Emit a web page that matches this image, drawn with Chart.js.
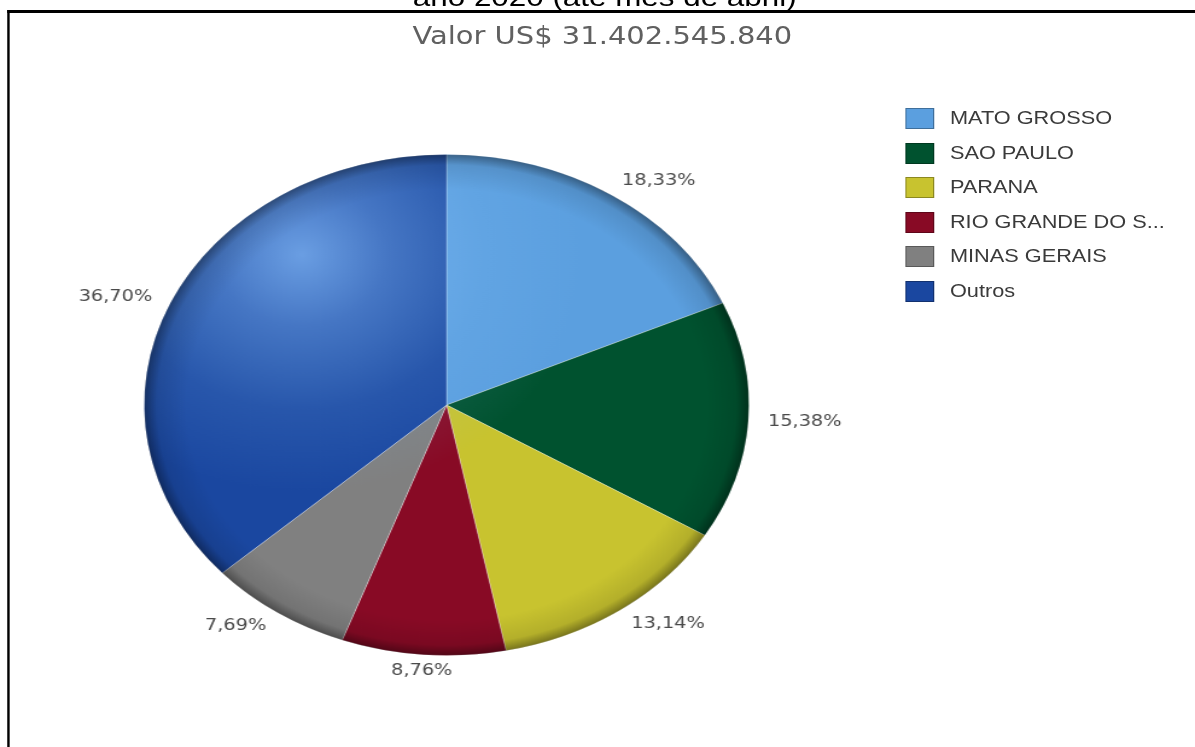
<!DOCTYPE html>
<html>
<head>
<meta charset="utf-8">
<script src="https://cdn.jsdelivr.net/npm/chart.js@4.4.1/dist/chart.umd.min.js"></script>
<style>
html, body { margin: 0; padding: 0; background: #fff; overflow: hidden; }
#page {
    position: absolute; left: 0; top: 0;
    width: 990px; height: 747px;
    transform: scaleX(1.207); transform-origin: 0 0;
}
#frame {
    position: absolute; left: 6px; top: 10px;
    width: 1000px; height: 760px;
    border-left: 2.5px solid #000; border-top: 3px solid #000;
}
#caption {
    position: absolute; left: 0; top: -16px; width: 1002px;
    text-align: center; font: 26px/26px "Liberation Sans", Arial, sans-serif; color: #000;
    white-space: nowrap;
}
#title {
    position: absolute; left: 0; top: 24px; width: 998px;
    text-align: center; font: 24px/24px "DejaVu Sans", Verdana, sans-serif; color: #606060;
    white-space: nowrap;
}
#pieChart { position: absolute; left: 0; top: 0; }
#legend {
    position: absolute; left: 750px; top: 108px;
    list-style: none; margin: 0; padding: 0;
    font: 18px "Liberation Sans", Arial, sans-serif; color: #3a3a3a;
}
#legend li { display: flex; align-items: center; height: 21px; margin-bottom: 13.5px; white-space: nowrap; }
#legend .box { width: 22px; height: 19px; margin-right: 13px; border: 1px solid rgba(0,0,0,0.3); }
</style>
</head>
<body>
<div id="page">
    <div id="frame"></div>
    <div id="caption">ano 2020 (até mês de abril)</div>
    <div id="title">Valor US$ 31.402.545.840</div>
    <canvas id="pieChart" width="990" height="747"></canvas>
    <ul id="legend"></ul>
</div>
<script>
const states = ['MATO GROSSO', 'SAO PAULO', 'PARANA', 'RIO GRANDE DO S...', 'MINAS GERAIS', 'Outros'];
const shares = [18.33, 15.38, 13.14, 8.76, 7.69, 36.70];
const stateColors = ['#5b9fdf', '#00522f', '#c8c32f', '#880a25', '#808080', '#1a47a0'];

// glossy look: light spot upper left, darker rim
const pieShading = {
    id: 'pieShading',
    afterDatasetsDraw(chart) {
        const arc = chart.getDatasetMeta(0).data[0];
        const { x, y, outerRadius: r } = arc.getProps(['x', 'y', 'outerRadius'], true);
        const ctx = chart.ctx;
        ctx.save();
        ctx.beginPath();
        ctx.arc(x, y, r, 0, Math.PI * 2);
        ctx.clip();

        const hx = x - r * 0.48, hy = y - r * 0.6;
        const glow = ctx.createRadialGradient(hx, hy, 0, hx, hy, r * 0.95);
        glow.addColorStop(0, 'rgba(140,195,255,0.7)');
        glow.addColorStop(0.3, 'rgba(140,195,255,0.38)');
        glow.addColorStop(0.65, 'rgba(140,200,255,0.12)');
        glow.addColorStop(1, 'rgba(140,200,255,0)');
        ctx.fillStyle = glow;
        ctx.fillRect(x - r, y - r, r * 2, r * 2);

        const rim = ctx.createRadialGradient(x, y, r * 0.86, x, y, r);
        rim.addColorStop(0, 'rgba(0,0,0,0)');
        rim.addColorStop(0.7, 'rgba(0,0,0,0.1)');
        rim.addColorStop(1, 'rgba(0,0,0,0.4)');
        ctx.fillStyle = rim;
        ctx.fillRect(x - r, y - r, r * 2, r * 2);
        ctx.restore();
    }
};

// percentage labels just outside each slice
const sliceLabels = {
    id: 'sliceLabels',
    afterDraw(chart, args, opts) {
        const ctx = chart.ctx;
        const values = chart.data.datasets[0].data;
        ctx.save();
        ctx.font = opts.font;
        ctx.fillStyle = opts.color;
        ctx.textBaseline = 'middle';
        chart.getDatasetMeta(0).data.forEach(function(arc, i) {
            const p = arc.getProps(['x', 'y', 'startAngle', 'endAngle', 'outerRadius'], true);
            const mid = (p.startAngle + p.endAngle) / 2;
            const cos = Math.cos(mid), sin = Math.sin(mid);
            const lx = p.x + cos * p.outerRadius * opts.offset;
            const ly = p.y + sin * p.outerRadius * opts.offset;
            ctx.textAlign = cos > 0.2 ? 'left' : (cos < -0.2 ? 'right' : 'center');
            ctx.fillText(values[i].toFixed(2).replace('.', ',') + '%', lx, ly);
        });
        ctx.restore();
    }
};

const pieCtx = document.getElementById('pieChart').getContext('2d');

const pieChart = new Chart(pieCtx, {
    type: 'pie',
    data: {
        labels: states,
        datasets: [{
            data: shares,
            backgroundColor: stateColors,
            borderColor: 'rgba(255,255,255,0.3)',
            borderWidth: 1
        }]
    },
    options: {
        responsive: false,
        animation: false,
        layout: {
            padding: { left: 119, top: 154, right: 369, bottom: 91 }
        },
        plugins: {
            legend: { display: false },
            tooltip: { enabled: false },
            sliceLabels: {
                font: '16px "DejaVu Sans", Verdana, sans-serif',
                color: '#4a4a4a',
                offset: 1.065
            }
        }
    },
    plugins: [pieShading, sliceLabels]
});

// legend list built from the chart's own items
const legendList = document.getElementById('legend');
pieChart.options.plugins.legend.labels.generateLabels(pieChart).forEach(function(item) {
    const li = document.createElement('li');
    const box = document.createElement('span');
    box.className = 'box';
    box.style.background = item.fillStyle;
    li.appendChild(box);
    li.appendChild(document.createTextNode(item.text));
    legendList.appendChild(li);
});
</script>
</body>
</html>
